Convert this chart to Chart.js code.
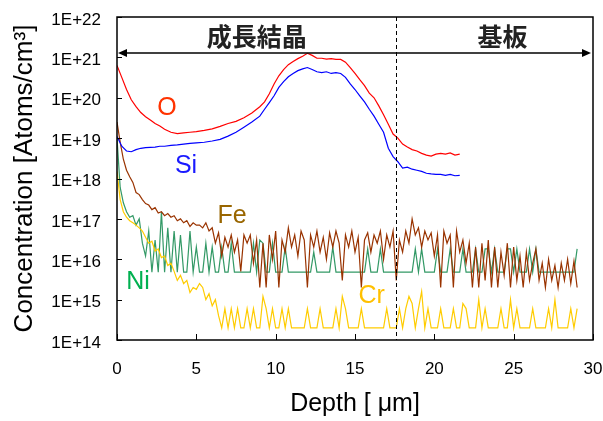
<!DOCTYPE html>
<html>
<head>
<meta charset="utf-8">
<script src="https://cdn.jsdelivr.net/npm/chart.js@4.4.1/dist/chart.umd.min.js"></script>
<style>
  html, body { margin: 0; padding: 0; background: #fff; }
</style>
</head>
<body>
<canvas id="sims" width="603" height="421"></canvas>
<script>
// Profil SIMS : concentration en fonction de la profondeur

// O et Si (profondeur en µm)
const depthOSi = [0, 0.3, 0.6, 0.9, 1.2, 1.5, 1.8, 2.1, 2.4, 2.7, 3.0, 3.4, 3.8, 4.2, 4.6, 5.0, 5.5, 6.0, 6.5, 7.0,
  7.5, 8.0, 8.5, 9.0, 9.3, 9.6, 9.9, 10.2, 10.5, 10.8, 11.1, 11.4, 11.7, 12.0, 12.3, 12.6, 12.9, 13.2, 13.5, 13.8,
  14.1, 14.4, 14.7, 15.0, 15.3, 15.6, 15.9, 16.2, 16.5, 16.8, 17.1, 17.4, 17.7, 18.0, 18.3, 18.6, 18.9, 19.2, 19.5,
  19.8, 20.1, 20.4, 20.7, 21.0, 21.3, 21.6];

const oxygen = [6.3e20, 3.2e20, 1.6e20, 8.9e19, 6.0e19, 4.3e19, 3.4e19, 2.8e19, 2.3e19, 2.0e19, 1.66e19, 1.4e19, 1.3e19,
  1.35e19, 1.4e19, 1.45e19, 1.55e19, 1.7e19, 1.95e19, 2.3e19, 2.6e19, 3.2e19, 4.2e19, 6.0e19, 7.9e19, 1.26e20, 2.2e20,
  3.5e20, 5.0e20, 6.6e20, 7.9e20, 9.3e20, 1.07e21, 1.26e21, 1.12e21, 9.5e20, 9.5e20, 9.1e20, 9.3e20, 8.9e20, 8.9e20,
  7.6e20, 5.6e20, 4.0e20, 2.8e20, 2.0e20, 1.3e20, 1.0e20, 6.3e19, 3.8e19, 2.2e19, 1.26e19, 1.0e19, 7.1e18, 6.0e18,
  5.2e18, 4.8e18, 4.2e18, 3.8e18, 3.6e18, 4.0e18, 4.2e18, 4.0e18, 4.3e18, 3.8e18, 4.0e18];

const silicon = [1.1e19, 6.3e18, 4.8e18, 4.6e18, 5.2e18, 5.6e18, 5.8e18, 5.9e18, 6.0e18, 6.3e18, 6.3e18, 6.6e18, 6.8e18,
  7.1e18, 7.4e18, 7.6e18, 7.9e18, 8.5e18, 9.3e18, 1.12e19, 1.4e19, 1.86e19, 2.5e19, 3.5e19, 5.2e19, 7.6e19, 1.12e20,
  1.8e20, 2.5e20, 3.3e20, 4.0e20, 4.7e20, 5.2e20, 5.6e20, 5.0e20, 4.4e20, 4.2e20, 4.4e20, 4.0e20, 4.2e20, 4.0e20,
  3.2e20, 2.2e20, 1.6e20, 1.12e20, 7.9e19, 5.2e19, 3.5e19, 2.2e19, 1.4e19, 5.6e18, 3.5e18, 2.6e18, 1.8e18, 1.9e18,
  1.7e18, 1.6e18, 1.5e18, 1.35e18, 1.3e18, 1.26e18, 1.26e18, 1.2e18, 1.26e18, 1.17e18, 1.2e18];

// Fe, Ni, Cr (pas de 0.2 µm)
const depthTrace = [0, 0.2, 0.4, 0.6, 0.8, 1, 1.2, 1.4, 1.6, 1.8, 2, 2.2, 2.4, 2.6, 2.8, 3, 3.2, 3.4, 3.6, 3.8,
  4, 4.2, 4.4, 4.6, 4.8, 5, 5.2, 5.4, 5.6, 5.8, 6, 6.2, 6.4, 6.6, 6.8, 7, 7.2, 7.4, 7.6, 7.8,
  8, 8.2, 8.4, 8.6, 8.8, 9, 9.2, 9.4, 9.6, 9.8, 10, 10.2, 10.4, 10.6, 10.8, 11, 11.2, 11.4, 11.6, 11.8,
  12, 12.2, 12.4, 12.6, 12.8, 13, 13.2, 13.4, 13.6, 13.8, 14, 14.2, 14.4, 14.6, 14.8, 15, 15.2, 15.4, 15.6, 15.8,
  16, 16.2, 16.4, 16.6, 16.8, 17, 17.2, 17.4, 17.6, 17.8, 18, 18.2, 18.4, 18.6, 18.8, 19, 19.2, 19.4, 19.6, 19.8,
  20, 20.2, 20.4, 20.6, 20.8, 21, 21.2, 21.4, 21.6, 21.8, 22, 22.2, 22.4, 22.6, 22.8, 23, 23.2, 23.4, 23.6, 23.8,
  24, 24.2, 24.4, 24.6, 24.8, 25, 25.2, 25.4, 25.6, 25.8, 26, 26.2, 26.4, 26.6, 26.8, 27, 27.2, 27.4, 27.6, 27.8,
  28, 28.2, 28.4, 28.6, 28.8, 29];

const iron = [2.5e19, 8e18, 3e18, 1.6e18, 1.1e18, 8e17, 4.5e17, 4e17, 3e17, 2.4e17,
  2.2e17, 1.7e17, 1.9e17, 1.4e17, 1.5e17, 1.2e17, 1.35e17, 1.1e17, 1.2e17, 9e16,
  1e17, 8e16, 9e16, 6.5e16, 8e16, 7e16, 7e16, 6e16, 8e16, 5e16,
  6e16, 2.5e16, 4.5e16, 1.2e16, 3.5e16, 2e16, 4e16, 1.5e16, 3e16, 5e15,
  4e16, 2.5e16, 4e16, 8e15, 3e16, 2e15, 2.5e16, 2e15, 4e16, 1e16,
  5e16, 2e15, 3e16, 1.5e16, 6e16, 2e16, 4e16, 1.2e16, 5e16, 3e16,
  2e15, 4e16, 2e16, 5e16, 1.5e16, 3.5e16, 1e16, 4.5e16, 2e16, 5e16,
  2.5e16, 3e15, 4e16, 2e16, 5e16, 1.5e16, 3.5e16, 2e15, 3e16, 4.5e16,
  1.5e16, 4e16, 2.5e16, 5e16, 1e16, 4e16, 2e16, 5e16, 3e15, 3e16,
  1.5e16, 5e16, 2.5e16, 1e17, 4e16, 6e16, 2e16, 5e16, 3e16, 4.5e16,
  1.2e16, 4e16, 2e15, 5e16, 2.5e16, 4e16, 2e15, 5e16, 1.5e16, 3e16,
  8e15, 2.5e16, 2e15, 2e16, 2e15, 2.5e16, 3e15, 3e16, 2e15, 2e16,
  2e15, 1.5e16, 4e15, 2.5e16, 2e15, 2e16, 3e15, 1.2e16, 2e15, 1.5e16,
  3e15, 8e15, 1.8e16, 3e15, 8e15, 2e15, 1e16, 3e15, 7e15, 2e15,
  8e15, 3e15, 1e16, 2.5e15, 9e15, 2e15];

const nickel = [1e19, 6e17, 2.5e17, 1.5e17, 1.1e17, 1.2e17, 7e16, 1e17, 2.5e16, 1.2e16,
  5e16, 4.8e15, 3e16, 4.8e15, 1.5e17, 4.8e15, 6e16, 4.8e15, 5e16, 4.8e15,
  4e16, 4.8e15, 4.8e15, 5e16, 4.8e15, 2e16, 4.8e15, 4.8e15, 2.5e16, 4.8e15,
  2e16, 4.8e15, 4.8e15, 2e16, 4.8e15, 4.8e15, 2.5e16, 4.8e15, 4.8e15, 4.8e15,
  4.8e15, 4.8e15, 4.8e15, 2.5e16, 4.8e15, 3e16, 2.5e16, 4.8e15, 4.8e15, 2.5e16,
  4.8e15, 4.8e15, 4.8e15, 2e16, 4.8e15, 4.8e15, 4.8e15, 4.8e15, 4.8e15, 4.8e15,
  4.8e15, 4.8e15, 1.5e16, 4.8e15, 4.8e15, 4.8e15, 4.8e15, 4.8e15, 2e16, 4.8e15,
  4.8e15, 4.8e15, 4.8e15, 4.8e15, 4.8e15, 4.8e15, 4.8e15, 4.8e15, 4.8e15, 1.8e16,
  4.8e15, 4.8e15, 4.8e15, 1.8e16, 4.8e15, 4.8e15, 4.8e15, 4.8e15, 4.8e15, 4.8e15,
  4.8e15, 4.8e15, 4.8e15, 4.8e15, 1.8e16, 4.8e15, 1.8e16, 4.8e15, 4.8e15, 4.8e15,
  4.8e15, 1.8e16, 4.8e15, 4.8e15, 4.8e15, 1.8e16, 4.8e15, 4.8e15, 4.8e15, 1.8e16,
  4.8e15, 4.8e15, 4.8e15, 1.8e16, 4.8e15, 4.8e15, 1.8e16, 1.8e16, 4.8e15, 1.8e16,
  4.8e15, 4.8e15, 4.8e15, 1.8e16, 1.8e16, 4.8e15, 1.8e16, 4.8e15, 4.8e15, 4.8e15,
  1.8e16, 4.8e15, 1.8e16, 4.8e15, 4.8e15, 4.8e15, 4.8e15, 4.8e15, 4.8e15, 4.8e15,
  4.8e15, 4.8e15, 4.8e15, 4.8e15, 4.8e15, 1.8e16];

const chromium = [1.5e18, 3e17, 1.5e17, 1.1e17, 9e16, 8e16, 7e16, 6e16, 5e16, 3.5e16,
  2.5e16, 2.8e16, 1.6e16, 1.8e16, 1.1e16, 1.2e16, 7e15, 8e15, 5e15, 3e15,
  4e15, 2.5e15, 3e15, 1.5e15, 2e15, 1.8e15, 2.5e15, 2e15, 1e15, 1.4e15,
  7e14, 1e15, 4e14, 2e14, 6e14, 2e14, 6e14, 2e14, 6e14, 2e14,
  2e14, 6e14, 2e14, 6e14, 2e14, 2e14, 1.2e15, 6e14, 2e14, 6e14,
  2e14, 2e14, 6e14, 2e14, 6e14, 2e14, 2e14, 2e14, 2e14, 2e14,
  6e14, 2e14, 2e14, 2e14, 6e14, 2e14, 2e14, 2e14, 2e14, 6e14,
  2e14, 1.2e15, 6e14, 2e14, 2e14, 2e14, 2e14, 6e14, 2e14, 2e14,
  2e14, 2e14, 2e14, 2e14, 2e14, 6e14, 2e14, 2e14, 2e14, 6e14,
  2e14, 6e14, 1.2e15, 8e14, 2e14, 6e14, 1.6e15, 2e14, 6e14, 2e14,
  2e14, 2e14, 6e14, 2e14, 2e14, 2e14, 6e14, 2e14, 2e14, 8e14,
  6e14, 2e14, 2e14, 2e14, 1e15, 2e14, 6e14, 2e14, 2e14, 2e14,
  2e14, 6e14, 2e14, 2e14, 1e15, 2e14, 6e14, 2e14, 2e14, 2e14,
  2e14, 6e14, 2e14, 2e14, 2e14, 2e14, 6e14, 2e14, 1e15, 2e14,
  2e14, 2e14, 2e14, 6e14, 2e14, 6e14];

// Axes
const xTicks = [0, 5, 10, 15, 20, 25, 30];
const yTicks = [1e14, 1e15, 1e16, 1e17, 1e18, 1e19, 1e20, 1e21, 1e22];

// Frontière cristal / substrat
const boundaryDepth = 17.6;
const arrowLevel = 1.28e21;

// Étiquettes (texte, profondeur, concentration)
const seriesLabels = [
  { text: 'O', x: 3.15, y: 5.6e19, color: '#ff3300' },
  { text: 'Si', x: 4.35, y: 2.0e18, color: '#1a1aff' },
  { text: 'Fe', x: 7.25, y: 1.2e17, color: '#996600' },
  { text: 'Ni', x: 1.32, y: 2.7e15, color: '#00b050' },
  { text: 'Cr', x: 16.05, y: 1.2e15, color: '#ffc000' }
];
const regionLabels = [
  { text: '成長結晶', x: 8.8, y: 3.2e21 },
  { text: '基板', x: 24.3, y: 3.2e21 }
];

const FONT = '"Liberation Sans", Arial, sans-serif';

function toPoints(xs, ys) {
  return xs.map((x, i) => ({ x: x, y: ys[i] }));
}

const decorPlugin = {
  id: 'decor',
  afterDraw(chart) {
    const { ctx, chartArea: a, scales: { x, y } } = chart;
    ctx.save();

    // cadre
    ctx.strokeStyle = '#000';
    ctx.lineWidth = 1.5;
    ctx.strokeRect(a.left, a.top, a.right - a.left, a.bottom - a.top);

    // graduations vers l'intérieur
    ctx.lineWidth = 1;
    ctx.beginPath();
    y.ticks.forEach((t, i) => {
      const py = Math.round(y.getPixelForTick(i)) + 0.5;
      ctx.moveTo(a.left, py);
      ctx.lineTo(a.left + 5, py);
    });
    x.ticks.forEach((t, i) => {
      const px = Math.round(x.getPixelForTick(i)) + 0.5;
      ctx.moveTo(px, a.bottom);
      ctx.lineTo(px, a.bottom - 6);
    });
    ctx.stroke();

    // ligne pointillée
    const bx = Math.round(x.getPixelForValue(boundaryDepth)) + 0.5;
    ctx.setLineDash([4, 3]);
    ctx.beginPath();
    ctx.moveTo(bx, a.top);
    ctx.lineTo(bx, a.bottom);
    ctx.stroke();
    ctx.setLineDash([]);

    // flèche double
    const ay = y.getPixelForValue(arrowLevel);
    const x0 = a.left + 1, x1 = a.right - 2;
    ctx.lineWidth = 1.5;
    ctx.beginPath();
    ctx.moveTo(x0 + 6, ay);
    ctx.lineTo(x1 - 6, ay);
    ctx.stroke();
    ctx.fillStyle = '#000';
    ctx.beginPath();
    ctx.moveTo(x0, ay); ctx.lineTo(x0 + 9, ay - 4); ctx.lineTo(x0 + 9, ay + 4); ctx.closePath();
    ctx.moveTo(x1, ay); ctx.lineTo(x1 - 9, ay - 4); ctx.lineTo(x1 - 9, ay + 4); ctx.closePath();
    ctx.fill();

    ctx.textAlign = 'center';
    ctx.textBaseline = 'middle';

    // titres des régions
    ctx.font = 'bold 25px "Noto Sans CJK JP", sans-serif';
    ctx.fillStyle = '#222';
    regionLabels.forEach(l => {
      ctx.fillText(l.text, x.getPixelForValue(l.x), y.getPixelForValue(l.y));
    });

    // noms des éléments
    ctx.font = '25px ' + FONT;
    seriesLabels.forEach(l => {
      ctx.fillStyle = l.color;
      ctx.fillText(l.text, x.getPixelForValue(l.x), y.getPixelForValue(l.y));
    });

    ctx.restore();
  }
};

const ctx = document.getElementById('sims').getContext('2d');

new Chart(ctx, {
  type: 'scatter',
  data: {
    datasets: [
      { label: 'O', data: toPoints(depthOSi, oxygen), borderColor: '#ff0000' },
      { label: 'Si', data: toPoints(depthOSi, silicon), borderColor: '#0000ff' },
      { label: 'Fe', data: toPoints(depthTrace, iron), borderColor: '#993300' },
      { label: 'Cr', data: toPoints(depthTrace, chromium), borderColor: '#ffcc00' },
      { label: 'Ni', data: toPoints(depthTrace, nickel), borderColor: '#339966' }
    ].map(d => Object.assign(d, {
      showLine: true,
      pointRadius: 0,
      borderWidth: 1.2,
      tension: 0
    }))
  },
  options: {
    responsive: false,
    animation: false,
    layout: { padding: { top: 17, right: 10, left: 0, bottom: 0 } },
    plugins: {
      legend: { display: false },
      tooltip: { enabled: false }
    },
    scales: {
      x: {
        type: 'linear',
        min: 0,
        max: 30,
        afterBuildTicks: s => { s.ticks = xTicks.map(v => ({ value: v })); },
        afterFit: s => { s.height = 81; s.paddingLeft = 0; s.paddingRight = 0; },
        grid: { display: false, drawTicks: false },
        border: { display: false },
        ticks: { color: '#000', font: { family: FONT, size: 17 }, padding: 19, maxRotation: 0 },
        title: {
          display: true,
          text: 'Depth [ μm]',
          color: '#000',
          font: { family: FONT, size: 25 },
          padding: { top: 2, bottom: 2 }
        }
      },
      y: {
        type: 'logarithmic',
        min: 1e14,
        max: 1e22,
        afterBuildTicks: s => { s.ticks = yTicks.map(v => ({ value: v })); },
        afterFit: s => { s.width = 117; s.paddingTop = 0; s.paddingBottom = 0; },
        grid: { display: false, drawTicks: false },
        border: { display: false },
        ticks: {
          color: '#000',
          font: { family: FONT, size: 17 },
          padding: 16,
          labelOffset: 3,
          callback: v => '1E+' + Math.round(Math.log10(v))
        },
        title: {
          display: true,
          text: 'Concentration [Atoms/cm³]',
          color: '#000',
          font: { family: FONT, size: 26 },
          padding: { top: 9, bottom: 4 }
        }
      }
    }
  },
  plugins: [decorPlugin]
});
</script>
</body>
</html>
